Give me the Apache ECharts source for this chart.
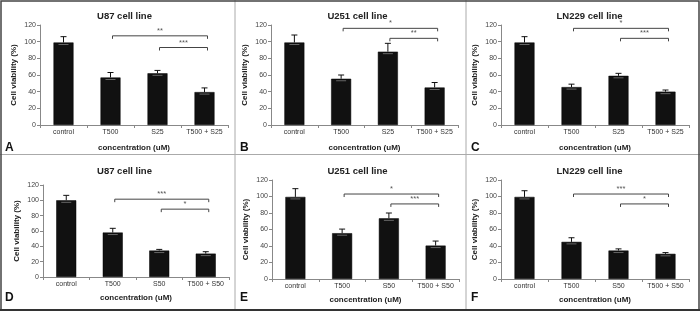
<!DOCTYPE html>
<html>
<head>
<meta charset="utf-8">
<script src="https://cdn.jsdelivr.net/npm/echarts@6/dist/echarts.min.js"></script>
<style>
  html, body { margin: 0; padding: 0; background: #fff; }
  #chart { width: 700px; height: 315px; }
</style>
</head>
<body>
<div id="chart"></div>
<script>
// categories
const categoriesS25 = ['control', 'T500', 'S25', 'T500 + S25'];
const categoriesS50 = ['control', 'T500', 'S50', 'T500 + S50'];
const panelTitles = ['U87 cell line', 'U251 cell line', 'LN229 cell line', 'U87 cell line', 'U251 cell line', 'LN229 cell line'];
const panelLetters = ['A', 'B', 'C', 'D', 'E', 'F'];
const xAxisName = 'concentration (uM)';
const yAxisName = 'Cell viability (%)';
const yMin = 0, yMax = 120, yStep = 20;

// mean cell viability (%) and error (SD)
const u87S25Mean = [99, 57, 62, 39.5];
const u87S25Err = [7, 6, 3.5, 5];
const u251S25Mean = [99, 55.5, 88, 45];
const u251S25Err = [9, 4.5, 10, 6];
const ln229S25Mean = [99, 45.5, 59, 40];
const ln229S25Err = [7, 3.5, 3, 2];
const u87S50Mean = [100, 58, 34.5, 30.5];
const u87S50Err = [6.5, 5.5, 1.5, 2.5];
const u251S50Mean = [99.5, 55.5, 73.5, 40.5];
const u251S50Err = [10, 5, 6.5, 5.5];
const ln229S50Mean = [99.5, 45, 34.5, 30.5];
const ln229S50Err = [7.5, 5, 2, 1.5];

// significance brackets: [from category, y, to category], and their labels
const bracketsA = [[1, 107, 3], [2, 93, 3]];
const bracketLabelsA = ['**', '***'];
const bracketsB = [[1, 116, 3], [2, 104, 3]];
const bracketLabelsB = ['*', '**'];
const bracketsC = [[1, 116, 3], [2, 104, 3]];
const bracketLabelsC = ['*', '***'];
const bracketsD = [[1, 101.5, 3], [2, 88.5, 3]];
const bracketLabelsD = ['***', '*'];
const bracketsE = [[1, 103, 3], [2, 91, 3]];
const bracketLabelsE = ['*', '***'];
const bracketsF = [[1, 103, 3], [2, 91, 3]];
const bracketLabelsF = ['***', '*'];

const panels = [
  { cats: categoriesS25, mean: u87S25Mean, err: u87S25Err, br: bracketsA, brl: bracketLabelsA },
  { cats: categoriesS25, mean: u251S25Mean, err: u251S25Err, br: bracketsB, brl: bracketLabelsB },
  { cats: categoriesS25, mean: ln229S25Mean, err: ln229S25Err, br: bracketsC, brl: bracketLabelsC },
  { cats: categoriesS50, mean: u87S50Mean, err: u87S50Err, br: bracketsD, brl: bracketLabelsD },
  { cats: categoriesS50, mean: u251S50Mean, err: u251S50Err, br: bracketsE, brl: bracketLabelsE },
  { cats: categoriesS50, mean: ln229S50Mean, err: ln229S50Err, br: bracketsF, brl: bracketLabelsF }
];

// layout of each panel (pixels)
const grids = [
  { left: 40, top: 25, width: 188, height: 100 },
  { left: 271, top: 25, width: 187, height: 100 },
  { left: 501, top: 25, width: 188, height: 100 },
  { left: 43, top: 185, width: 186, height: 92 },
  { left: 272, top: 180, width: 187, height: 99 },
  { left: 501, top: 180, width: 188, height: 99 }
];
const panelBoxes = [
  { x: 0, y: 0, w: 235 }, { x: 235, y: 0, w: 231 }, { x: 466, y: 0, w: 233 },
  { x: 0, y: 154, w: 235 }, { x: 235, y: 154, w: 231 }, { x: 466, y: 154, w: 233 }
];

const font = 'Liberation Sans, Arial, sans-serif';
const chart = echarts.init(document.getElementById('chart'), null, { renderer: 'canvas' });

const option = {
  backgroundColor: '#fff',
  animation: false,
  textStyle: { fontFamily: font },
  grid: grids.map(g => Object.assign({ containLabel: false }, g)),
  title: panelTitles.map((t, i) => ({
    text: t,
    left: panelBoxes[i].x + panelBoxes[i].w / 2 + 2,
    top: i < 3 ? 6 : 161,
    textAlign: 'center',
    textStyle: { fontSize: 9.5, fontWeight: 'bold', color: '#222', fontFamily: font }
  })),
  xAxis: panels.map((p, i) => ({
    type: 'category',
    gridIndex: i,
    data: p.cats,
    name: xAxisName,
    nameLocation: 'middle',
    nameGap: i < 3 ? 19 : 17,
    nameTextStyle: { fontSize: 8, fontWeight: 'bold', color: '#222' },
    axisLine: { lineStyle: { color: '#888', width: 1 } },
    axisTick: { show: true, length: 3, lineStyle: { color: '#888' } },
    axisLabel: { fontSize: 7, color: '#333', margin: 4, interval: 0 },
    splitLine: { show: false }
  })),
  yAxis: panels.map((p, i) => ({
    type: 'value',
    gridIndex: i,
    min: yMin,
    max: yMax,
    interval: yStep,
    name: yAxisName,
    nameLocation: 'middle',
    nameGap: 22,
    nameRotate: 90,
    nameTextStyle: { fontSize: 8, fontWeight: 'bold', color: '#222' },
    axisLine: { show: true, lineStyle: { color: '#888', width: 1 } },
    axisTick: { show: true, length: 3, lineStyle: { color: '#888' } },
    axisLabel: { fontSize: 7, color: '#444', margin: 4 },
    splitLine: { show: false }
  })),
  series: [],
  graphic: []
};

panels.forEach((p, i) => {
  option.series.push({
    type: 'bar',
    xAxisIndex: i,
    yAxisIndex: i,
    data: p.mean,
    barWidth: 20,
    itemStyle: { color: '#111', borderColor: '#000', borderWidth: 0.5 },
    z: 2
  });
  // error bars (upper whisker; light mark just under the bar top)
  option.series.push({
    type: 'custom',
    xAxisIndex: i,
    yAxisIndex: i,
    z: 3,
    data: p.mean.map((m, k) => [k, m, m + p.err[k]]),
    encode: { x: 0, y: [1, 2] },
    renderItem: (params, api) => {
      const hi = api.coord([api.value(0), api.value(2)]);
      const mid = api.coord([api.value(0), api.value(1)]);
      const cw = 3;
      return {
        type: 'group',
        children: [
          { type: 'line', shape: { x1: hi[0], y1: hi[1], x2: mid[0], y2: mid[1] }, style: { stroke: '#111', lineWidth: 1 } },
          { type: 'line', shape: { x1: hi[0] - cw, y1: hi[1], x2: hi[0] + cw, y2: hi[1] }, style: { stroke: '#111', lineWidth: 1 } },
          { type: 'line', shape: { x1: mid[0] - 5, y1: mid[1] + 2, x2: mid[0] + 5, y2: mid[1] + 2 }, style: { stroke: '#666', lineWidth: 1 } }
        ]
      };
    }
  });
  // significance brackets
  option.series.push({
    type: 'custom',
    xAxisIndex: i,
    yAxisIndex: i,
    z: 4,
    data: p.br,
    encode: { x: [0, 2], y: 1 },
    renderItem: (params, api) => {
      const a = api.coord([api.value(0), api.value(1)]);
      const b = api.coord([api.value(2), api.value(1)]);
      const x1 = a[0] + 2, x2 = b[0] + 3, y = a[1];
      return {
        type: 'group',
        children: [
          { type: 'polyline', shape: { points: [[x1, y + 3], [x1, y], [x2, y], [x2, y + 3]] }, style: { stroke: '#444', lineWidth: 1, fill: null } },
          { type: 'text', style: { x: (x1 + x2) / 2, y: y - 1, text: p.brl[params.dataIndex], textAlign: 'center', textVerticalAlign: 'bottom', fontSize: 7.5, fill: '#555', fontFamily: font } }
        ]
      };
    }
  });
});

// panel letters
panelLetters.forEach((l, i) => {
  option.graphic.push({
    type: 'text',
    left: panelBoxes[i].x + 5,
    top: i < 3 ? 142 : 292,
    style: { text: l, fontSize: 12, fontWeight: 'bold', fill: '#111', fontFamily: font }
  });
});

// frame and panel dividers
option.graphic.push(
  { type: 'line', shape: { x1: 235, y1: 0, x2: 235, y2: 310 }, style: { stroke: '#aaa', lineWidth: 1 } },
  { type: 'line', shape: { x1: 466, y1: 0, x2: 466, y2: 310 }, style: { stroke: '#aaa', lineWidth: 1 } },
  { type: 'line', shape: { x1: 0, y1: 154.5, x2: 700, y2: 154.5 }, style: { stroke: '#aaa', lineWidth: 1 } },
  { type: 'rect', shape: { x: 1, y: 1, width: 698, height: 309 }, style: { stroke: '#444', lineWidth: 1.5, fill: null } },
  { type: 'line', shape: { x1: 0, y1: 310, x2: 700, y2: 310 }, style: { stroke: '#333', lineWidth: 2 } }
);

chart.setOption(option);
</script>
</body>
</html>
